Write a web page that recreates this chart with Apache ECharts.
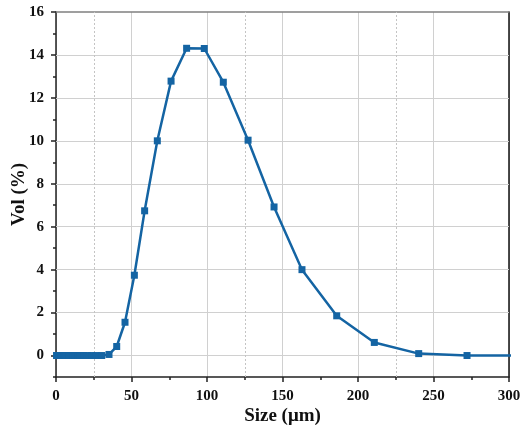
<!DOCTYPE html>
<html>
<head>
<meta charset="utf-8">
<script src="https://cdn.jsdelivr.net/npm/echarts@6/dist/echarts.min.js"></script>
<style>
  html, body { margin: 0; padding: 0; background: #fff; }
  #chart { width: 520px; height: 430px; }
</style>
</head>
<body>
<div id="chart"></div>
<script>
// Particle size distribution (volume %)
const sizes = [0.5, 0.6, 0.7, 0.8, 0.9, 1.0, 1.1, 1.3, 1.5, 1.7, 1.9, 2.2, 2.5, 2.8, 3.2,
  3.6, 4.1, 4.6, 5.2, 5.9, 6.7, 7.6, 8.6, 9.8, 11.1, 12.6, 14.3, 16.2, 18.3, 20.8, 23.6,
  26.7, 30.3, 35.1, 40.2, 45.7, 51.9, 58.7, 67.1, 76.2, 86.5, 98.2, 110.8, 127.2, 144.4,
  162.9, 185.9, 210.8, 240.2, 272.2, 309.0];
const volumes = [0, 0, 0, 0, 0, 0, 0, 0, 0, 0, 0, 0, 0, 0, 0,
  0, 0, 0, 0, 0, 0, 0, 0, 0, 0, 0, 0, 0, 0, 0, 0,
  0, 0, 0.05, 0.42, 1.55, 3.74, 6.74, 10.0, 12.78, 14.31, 14.3, 12.73, 10.03, 6.92,
  4.0, 1.85, 0.61, 0.09, 0.0, 0.0];

// Axis ticks
const yMajorTicks = [0, 2, 4, 6, 8, 10, 12, 14, 16];
const yMinorTicks = [-1, 1, 3, 5, 7, 9, 11, 13, 15];
const yGridValues = [0, 2, 4, 6, 8, 10, 12, 14];
const xDottedGrid = [25, 125, 225];

const FONT = '"Liberation Serif", "Times New Roman", serif';
const LINE_COLOR = '#1464a3';

const chart = echarts.init(document.getElementById('chart'), null, { renderer: 'canvas' });

const points = sizes.map((s, i) => [s, volumes[i]]);

chart.setOption({
  animation: false,
  backgroundColor: '#ffffff',
  grid: { left: 56, right: 11, top: 12, bottom: 53, containLabel: false, outerBoundsMode: 'none' },
  xAxis: [
    {
      type: 'value', min: 0, max: 300, interval: 50,
      name: 'Size (μm)', nameLocation: 'middle', nameGap: 30, nameMoveOverlap: false,
      nameTextStyle: { fontFamily: FONT, fontWeight: 'bold', fontSize: 19, color: '#111' },
      axisLine: { show: true, onZero: false, lineStyle: { color: '#222', width: 1.5 } },
      axisTick: { show: true, inside: false, length: 5, lineStyle: { color: '#222', width: 1.5 } },
      minorTick: { show: true, splitNumber: 2, length: 3, lineStyle: { color: '#222', width: 1.5 } },
      axisLabel: { fontFamily: FONT, fontWeight: 'bold', fontSize: 15, color: '#111', margin: 12 },
      splitLine: { show: true, lineStyle: { color: '#d0d0d0', width: 1 } },
      minorSplitLine: { show: false }
    },
    {
      type: 'value', position: 'top', min: 0, max: 1,
      axisLine: { show: true, onZero: false, lineStyle: { color: '#808080', width: 1.5 } },
      axisTick: { show: false }, axisLabel: { show: false }, splitLine: { show: false }
    }
  ],
  yAxis: [
    {
      type: 'value', min: -1, max: 16,
      name: 'Vol (%)', nameLocation: 'middle', nameGap: 27, nameRotate: 90, nameMoveOverlap: false,
      nameTextStyle: { fontFamily: FONT, fontWeight: 'bold', fontSize: 19, color: '#111' },
      axisLine: { show: true, onZero: false, lineStyle: { color: '#222', width: 1.5 } },
      axisTick: { show: true, inside: false, length: 5, customValues: yMajorTicks,
        lineStyle: { color: '#222', width: 1.5 } },
      axisLabel: { fontFamily: FONT, fontWeight: 'bold', fontSize: 15, color: '#111', margin: 12,
        customValues: yMajorTicks },
      splitLine: { show: false }
    },
    {
      type: 'value', position: 'left', min: -1, max: 16,
      axisLine: { show: false },
      axisTick: { show: true, inside: false, length: 3, customValues: yMinorTicks,
        lineStyle: { color: '#222', width: 1.5 } },
      axisLabel: { show: false }, splitLine: { show: false }
    },
    {
      type: 'value', position: 'right', min: 0, max: 1,
      axisLine: { show: true, onZero: false, lineStyle: { color: '#111', width: 1.5 } },
      axisTick: { show: false }, axisLabel: { show: false }, splitLine: { show: false }
    }
  ],
  series: [
    {
      type: 'line',
      xAxisIndex: 0, yAxisIndex: 0,
      data: points,
      clip: true,
      symbol: 'rect', symbolSize: 7,
      itemStyle: { color: LINE_COLOR },
      lineStyle: { color: LINE_COLOR, width: 2.5 },
      z: 5,
      markLine: {
        silent: true, symbol: 'none', animation: false,
        label: { show: false },
        emphasis: { disabled: true },
        data: [
          ...yGridValues.map(v => ({ yAxis: v, lineStyle: { color: '#d0d0d0', width: 1, type: 'solid' } })),
          ...xDottedGrid.map(v => ({ xAxis: v, lineStyle: { color: '#c4c4c4', width: 1, type: [2, 2] } }))
        ],
        z: 1
      }
    }
  ]
});
</script>
</body>
</html>
